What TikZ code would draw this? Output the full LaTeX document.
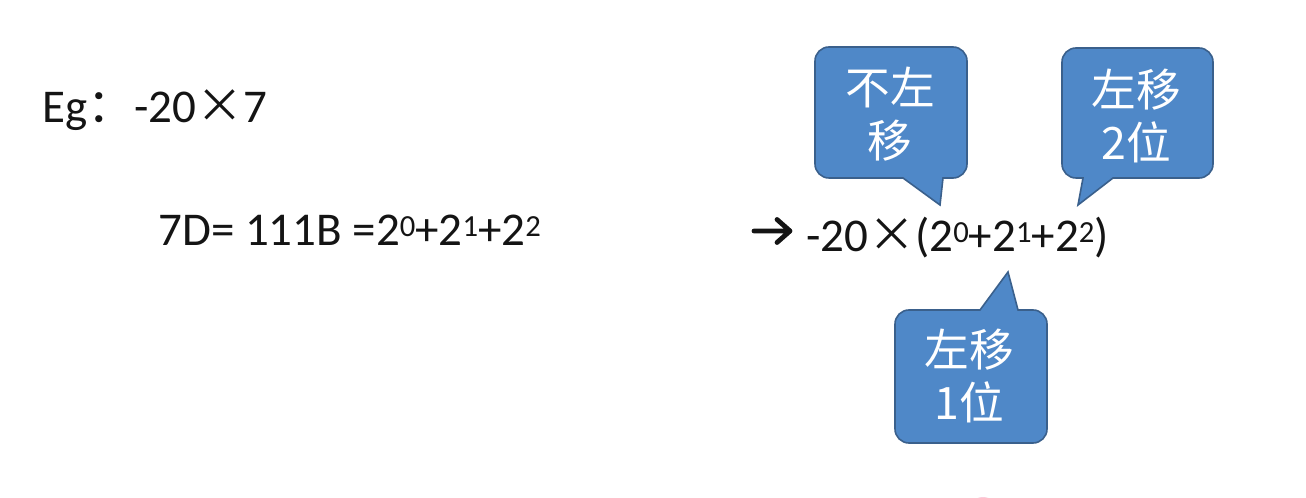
\documentclass[tikz,border=0pt]{standalone}
\usepackage{fontspec}
\setmainfont{Carlito}
\newfontfamily\cjk{Noto Sans CJK SC}
\definecolor{cbfill}{RGB}{79,136,200}
\definecolor{cbline}{RGB}{58,96,140}
\definecolor{pinkdot}{RGB}{250,205,220}
\definecolor{ink}{RGB}{20,20,20}
\newcommand{\sPow}[1]{\raisebox{0.2em}{\fontsize{23}{24}\selectfont #1}}
\tikzset{
  txt/.style={inner sep=0pt, anchor=base west, text=ink, font=\fontsize{35.25}{42}\selectfont},
  callout/.style={fill=cbfill, draw=cbline, line width=1.2pt},
  ctext/.style={inner sep=0pt, text=white, align=center, font=\cjk\fontsize{33.5}{39.5}\selectfont},
  symarrow/.style={draw=ink, line width=3.6pt, line cap=round, line join=round}
}
\begin{document}
\begin{tikzpicture}[x=0.75pt,y=-0.75pt]
\useasboundingbox (0,0) rectangle (1306,498);
\fill[white] (0,0) rectangle (1306,498);
\begin{scope}
\clip (0,0) rectangle (1306,498);
\fill[pinkdot] (983,512) circle (15);
\end{scope}

% left text
\node[txt] (eg) at (42,123) {Eg{\cjk：}-20{\cjk ×}7};
\node[txt] (seven) at (158,246) {7D= 111B =2\sPow{0}+2\sPow{1}+2\sPow{2}};

% right expression
\coordinate (arrS) at (754,231);
\coordinate (arrE) at (790,231);
\draw[symarrow] (arrS) -- (arrE) (777,219.5) -- (arrE) -- (777,242.5);
\node[txt] (expr) at (806,252) {-20{\cjk ×}(2\sPow{0}+2\sPow{1}+2\sPow{2})};

% callout 1 : box 815..967 x 47..178, tail to (940,205)
\draw[callout] (943,178) -- (953,178) arc[start angle=90,end angle=0,radius=14]
  -- (967,61) arc[start angle=0,end angle=-90,radius=14]
  -- (829,47) arc[start angle=-90,end angle=-180,radius=14]
  -- (815,164) arc[start angle=180,end angle=90,radius=14]
  -- (903,178) -- (940,205) -- cycle;
\node[ctext] (c1) at (890,114) {不左\\移};

% callout 2 : box 1062..1213 x 48..178, tail to (1078,205)
\draw[callout] (1113,178) -- (1199,178) arc[start angle=90,end angle=0,radius=14]
  -- (1213,62) arc[start angle=0,end angle=-90,radius=14]
  -- (1076,48) arc[start angle=-90,end angle=-180,radius=14]
  -- (1062,164) arc[start angle=180,end angle=90,radius=14]
  -- (1083,178) -- (1078,205) -- cycle;
\node[ctext] (c2) at (1136,116) {左移\\2位};

% callout 3 : box 895..1047 x 310..443, tail to (1008,272)
\draw[callout] (1018,310) -- (1033,310) arc[start angle=-90,end angle=0,radius=14]
  -- (1047,429) arc[start angle=0,end angle=90,radius=14]
  -- (909,443) arc[start angle=90,end angle=180,radius=14]
  -- (895,324) arc[start angle=180,end angle=270,radius=14]
  -- (980,310) -- (1008,272) -- cycle;
\node[ctext] (c3) at (969,376) {左移\\1位};
\end{tikzpicture}
\end{document}
